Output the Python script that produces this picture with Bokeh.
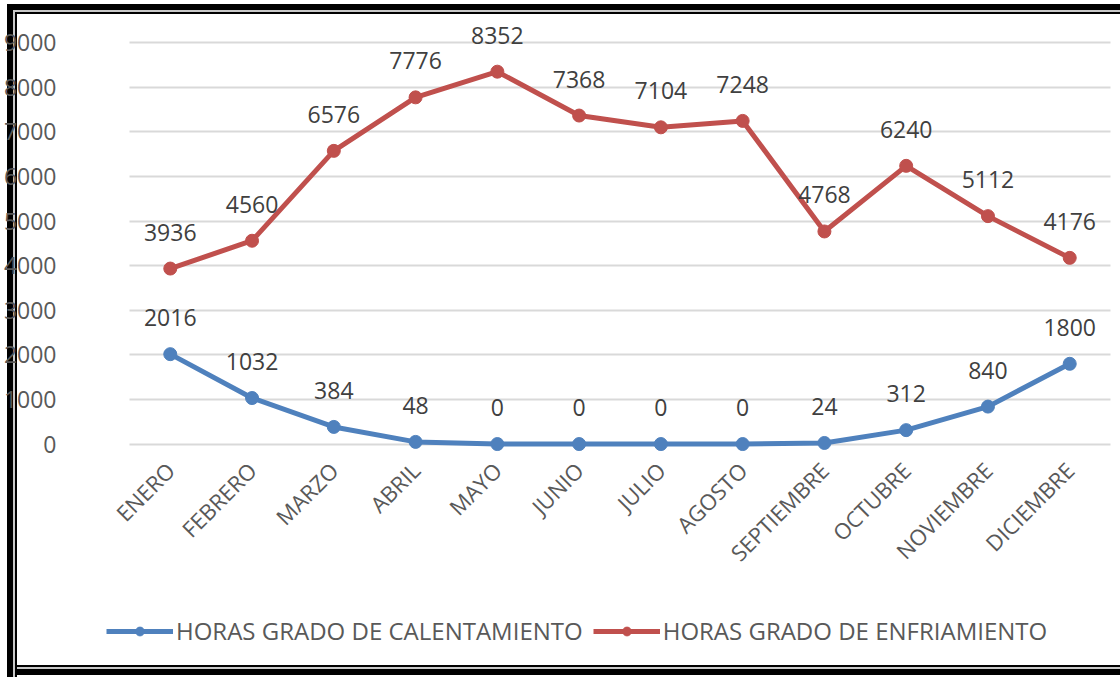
from bokeh.plotting import figure
from bokeh.models import (ColumnDataSource, LabelSet, Legend, LegendItem, FixedTicker,
                          Range1d, FactorRange)
from bokeh.embed import file_html
from bokeh.resources import INLINE
from bokeh.core.properties import value

meses = ["ENERO", "FEBRERO", "MARZO", "ABRIL", "MAYO", "JUNIO", "JULIO",
         "AGOSTO", "SEPTIEMBRE", "OCTUBRE", "NOVIEMBRE", "DICIEMBRE"]
calentamiento = [2016, 1032, 384, 48, 0, 0, 0, 0, 24, 312, 840, 1800]
enfriamiento = [3936, 4560, 6576, 7776, 8352, 7368, 7104, 7248, 4768, 6240, 5112, 4176]
y_ticks = [0, 1000, 2000, 3000, 4000, 5000, 6000, 7000, 8000, 9000]
serie_cal = "HORAS GRADO DE CALENTAMIENTO"
serie_enf = "HORAS GRADO DE ENFRIAMIENTO"

AZUL = "#4F81BD"
ROJO = "#C0504D"
FONT = "Open Sans"

x_range = FactorRange(factors=meses, range_padding=0.28, range_padding_units="absolute")

# the frame reaches down to the legend; the x axis sits at y = 0
p = figure(frame_width=1027, frame_height=642, x_range=x_range, y_range=Range1d(-4900, 9500),
           output_backend="svg", toolbar_location=None,
           min_border_left=90, min_border_right=0, min_border_top=20,
           min_border_bottom=15)
p.border_fill_color = None
p.background_fill_color = "white"
p.outline_line_color = None
# chart frame drawn with CSS on the figure element
p.styles = {
    "background": ("linear-gradient(to bottom, white 0px, white 665px, black 665px, "
                   "black 667px, #c8c8c8 667px, #c8c8c8 669px, black 669px, "
                   "black 675px, white 675px)"),
    "box-shadow": ("inset 7px 4px 0 0 white, inset 13px 10px 0 0 black, "
                   "inset 15px 12px 0 0 #c8c8c8, inset 17px 14px 0 0 black, "
                   "inset -3px 0 0 0 #d0d0d0"),
}

src_c = ColumnDataSource(dict(x=meses, y=calentamiento, t=[str(v) for v in calentamiento]))
src_e = ColumnDataSource(dict(x=meses, y=enfriamiento, t=[str(v) for v in enfriamiento]))

l_c = p.line("x", "y", source=src_c, line_color=AZUL, line_width=5)
s_c = p.scatter("x", "y", source=src_c, size=13, fill_color=AZUL, line_color=AZUL)
l_e = p.line("x", "y", source=src_e, line_color=ROJO, line_width=5)
s_e = p.scatter("x", "y", source=src_e, size=13, fill_color=ROJO, line_color=ROJO)

for src in (src_c, src_e):
    p.add_layout(LabelSet(x="x", y="y", text="t", source=src, y_offset=28,
                          text_align="center", text_baseline="alphabetic",
                          text_font=value(FONT), text_font_size="23px",
                          text_color="#404040"))

# grid
p.xgrid.grid_line_color = None
p.ygrid.ticker = FixedTicker(ticks=y_ticks)
p.ygrid.grid_line_color = "#D9D9D9"
p.ygrid.grid_line_width = 2
try:
    p.ygrid[0].cross_bounds = (0, len(meses))
except Exception:
    pass

# y axis
p.yaxis.ticker = FixedTicker(ticks=y_ticks)
p.yaxis.axis_line_color = None
p.yaxis.major_tick_line_color = None
p.yaxis.minor_tick_line_color = None
p.yaxis.major_tick_out = 0
p.yaxis.major_tick_in = 0
p.yaxis.major_label_standoff = 50
p.yaxis.major_label_text_font = FONT
p.yaxis.major_label_text_font_size = "23px"
p.yaxis.major_label_text_color = "#595959"

# x axis, placed at y = 0
p.xaxis.fixed_location = 0
p.xaxis.axis_line_color = None
p.xaxis.major_tick_line_color = None
p.xaxis.major_tick_out = 0
p.xaxis.major_tick_in = 0
p.xaxis.major_label_standoff = 22
p.xaxis.major_label_orientation = 0.785398
p.xaxis.major_label_text_font = FONT
p.xaxis.major_label_text_font_size = "22px"
p.xaxis.major_label_text_color = "#595959"

legend = Legend(items=[LegendItem(label=serie_cal, renderers=[l_c, s_c]),
                       LegendItem(label=serie_enf, renderers=[l_e, s_e])],
                orientation="horizontal", location=(0, 15),
                label_text_font=FONT, label_text_font_size="24px",
                label_text_color="#595959", glyph_width=67, glyph_height=22,
                label_standoff=3, spacing=10, padding=0, margin=0,
                border_line_color=None, background_fill_alpha=0)
p.add_layout(legend, "center")

open("out.html", "w").write(file_html(p, INLINE))
